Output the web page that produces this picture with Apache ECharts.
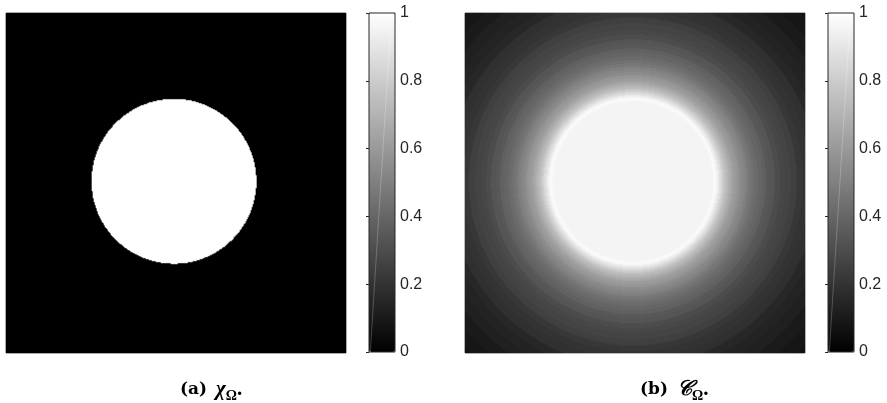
<!DOCTYPE html>
<html>
<head>
<meta charset="utf-8">
<script src="https://cdn.jsdelivr.net/npm/echarts@6/dist/echarts.min.js"></script>
<style>
  html, body { margin: 0; padding: 0; background: #fff; }
  #chart { width: 887px; height: 403px; }
</style>
</head>
<body>
<div id="chart"></div>
<script>
// Cells per side of each sampled field
const cellsPerSide = 340;
// Disk centre, normalised panel coordinates ([-1, 1] across each panel, y up)
const diskCentre = [-0.01, 0.011];

// χΩ: radius (normalised) where each level begins, and the level itself
const chiRadii  = [0, 0.485];
const chiLevels = [1, 0];

// CΩ: radial profile, radius where each level begins and its level
const cRadii  = [0, 0.471, 0.494, 0.506, 0.518, 0.529, 0.541, 0.553, 0.565, 0.576, 0.588,
                 0.606, 0.624, 0.641, 0.659, 0.676, 0.694, 0.712, 0.735, 0.759, 0.782,
                 0.806, 0.835, 0.865, 0.894, 0.929, 0.965, 1.000, 1.041, 1.088, 1.135,
                 1.188, 1.247, 1.318, 1.394];
const cLevels = [0.955, 0.975, 0.93, 0.88, 0.83, 0.79, 0.75, 0.715, 0.685, 0.655, 0.625,
                 0.59, 0.56, 0.53, 0.50, 0.475, 0.45, 0.43, 0.405, 0.38, 0.355,
                 0.335, 0.31, 0.29, 0.27, 0.25, 0.23, 0.21, 0.19, 0.17, 0.15,
                 0.135, 0.115, 0.095, 0.08];

// Colour bar scale
const colorbarMin = 0;
const colorbarMax = 1;
const colorbarStep = 0.2;

function levelAt(radii, levels, r) {
  let k = 0;
  while (k + 1 < radii.length && radii[k + 1] <= r) k++;
  return levels[k];
}

function fieldData(radii, levels) {
  const n = cellsPerSide;
  const out = [];
  for (let i = 0; i < n; i++) {
    for (let j = 0; j < n; j++) {
      const x = (i + 0.5) / n * 2 - 1;
      const y = (j + 0.5) / n * 2 - 1;
      const r = Math.hypot(x - diskCentre[0], y - diskCentre[1]);
      out.push([i, j, levelAt(radii, levels, r)]);
    }
  }
  return out;
}

const cellIndex = Array.from({ length: cellsPerSide }, (_, i) => i);
const chiData = fieldData(chiRadii, chiLevels);
const cData = fieldData(cRadii, cLevels);

const inkColor = '#262626';
const tickFont = 'Liberation Sans, Arial, Helvetica, sans-serif';

function fieldAxis(gridIndex) {
  return { gridIndex, type: 'category', data: cellIndex, show: false };
}
function barXAxis(gridIndex) {
  return { gridIndex, type: 'value', min: 0, max: 1, show: false };
}
function barYAxis(gridIndex) {
  return {
    gridIndex, type: 'value', position: 'right',
    min: colorbarMin, max: colorbarMax, interval: colorbarStep,
    axisLine: { show: false },
    axisTick: { show: true, inside: true, length: 3, lineStyle: { color: inkColor, width: 1 } },
    axisLabel: { color: inkColor, fontSize: 16, margin: 5, fontFamily: tickFont },
    splitLine: { show: false }
  };
}
function barVisualMap(seriesIndex, left) {
  return {
    type: 'continuous', seriesIndex, min: colorbarMin, max: colorbarMax,
    calculable: false, hoverLink: false, orient: 'vertical',
    left, top: 13, itemWidth: 26, itemHeight: 339, padding: 0,
    inRange: { color: ['#000000', '#ffffff'] }
  };
}

const serif = 'Liberation Serif, DejaVu Serif, serif';
const captionRich = {
  b: { fontFamily: 'DejaVu Serif, serif', fontWeight: 'bold', fontSize: 17, color: '#000', lineHeight: 26, verticalAlign: 'middle' },
  i: { fontFamily: serif, fontStyle: 'italic', fontSize: 21, color: '#000', lineHeight: 26, verticalAlign: 'middle', padding: [0, 0, 0, 9] },
  s: { fontFamily: serif, fontSize: 14, color: '#000', lineHeight: 26, verticalAlign: 'bottom' },
  d: { fontFamily: serif, fontSize: 21, color: '#000', lineHeight: 26, verticalAlign: 'middle' }
};

const chart = echarts.init(document.getElementById('chart'), null, { renderer: 'canvas' });
chart.setOption({
  animation: false,
  backgroundColor: '#ffffff',
  title: [
    { text: '{b|(a)}{i|χ}{s|Ω}{d|.}', left: 180, top: 377, padding: 0, textStyle: { rich: captionRich } },
    { text: '{b|(b)}{i|𝒞}{s|Ω}{d|.}', left: 640, top: 377, padding: 0, textStyle: { rich: captionRich } }
  ],
  grid: [
    { left: 6, top: 13, width: 340, height: 340, show: true, backgroundColor: '#000', borderWidth: 0 },
    { left: 465, top: 13, width: 340, height: 340, show: true, backgroundColor: '#000', borderWidth: 0 },
    { left: 369, top: 13, width: 26, height: 339, show: true, backgroundColor: 'transparent', borderColor: inkColor, borderWidth: 1, z: 10 },
    { left: 828, top: 13, width: 26, height: 339, show: true, backgroundColor: 'transparent', borderColor: inkColor, borderWidth: 1, z: 10 }
  ],
  xAxis: [fieldAxis(0), fieldAxis(1), barXAxis(2), barXAxis(3)],
  yAxis: [fieldAxis(0), fieldAxis(1), barYAxis(2), barYAxis(3)],
  visualMap: [barVisualMap(0, 369), barVisualMap(1, 828)],
  series: [
    { type: 'heatmap', name: 'χΩ', xAxisIndex: 0, yAxisIndex: 0, data: chiData, progressive: 0, emphasis: { disabled: true } },
    { type: 'heatmap', name: 'CΩ', xAxisIndex: 1, yAxisIndex: 1, data: cData, progressive: 0, emphasis: { disabled: true } }
  ]
});

// Faint light streak running diagonally through each colour bar
const streaks = [2, 3].map(function (g) {
  const a = chart.convertToPixel({ gridIndex: g }, [0.05, 0.0]);
  const b = chart.convertToPixel({ gridIndex: g }, [0.85, 0.98]);
  return {
    type: 'line', z: 20, silent: true,
    shape: { x1: a[0], y1: a[1], x2: b[0], y2: b[1] },
    style: { stroke: 'rgba(255,255,255,0.22)', lineWidth: 1 }
  };
});
chart.setOption({ graphic: streaks });
</script>
</body>
</html>
